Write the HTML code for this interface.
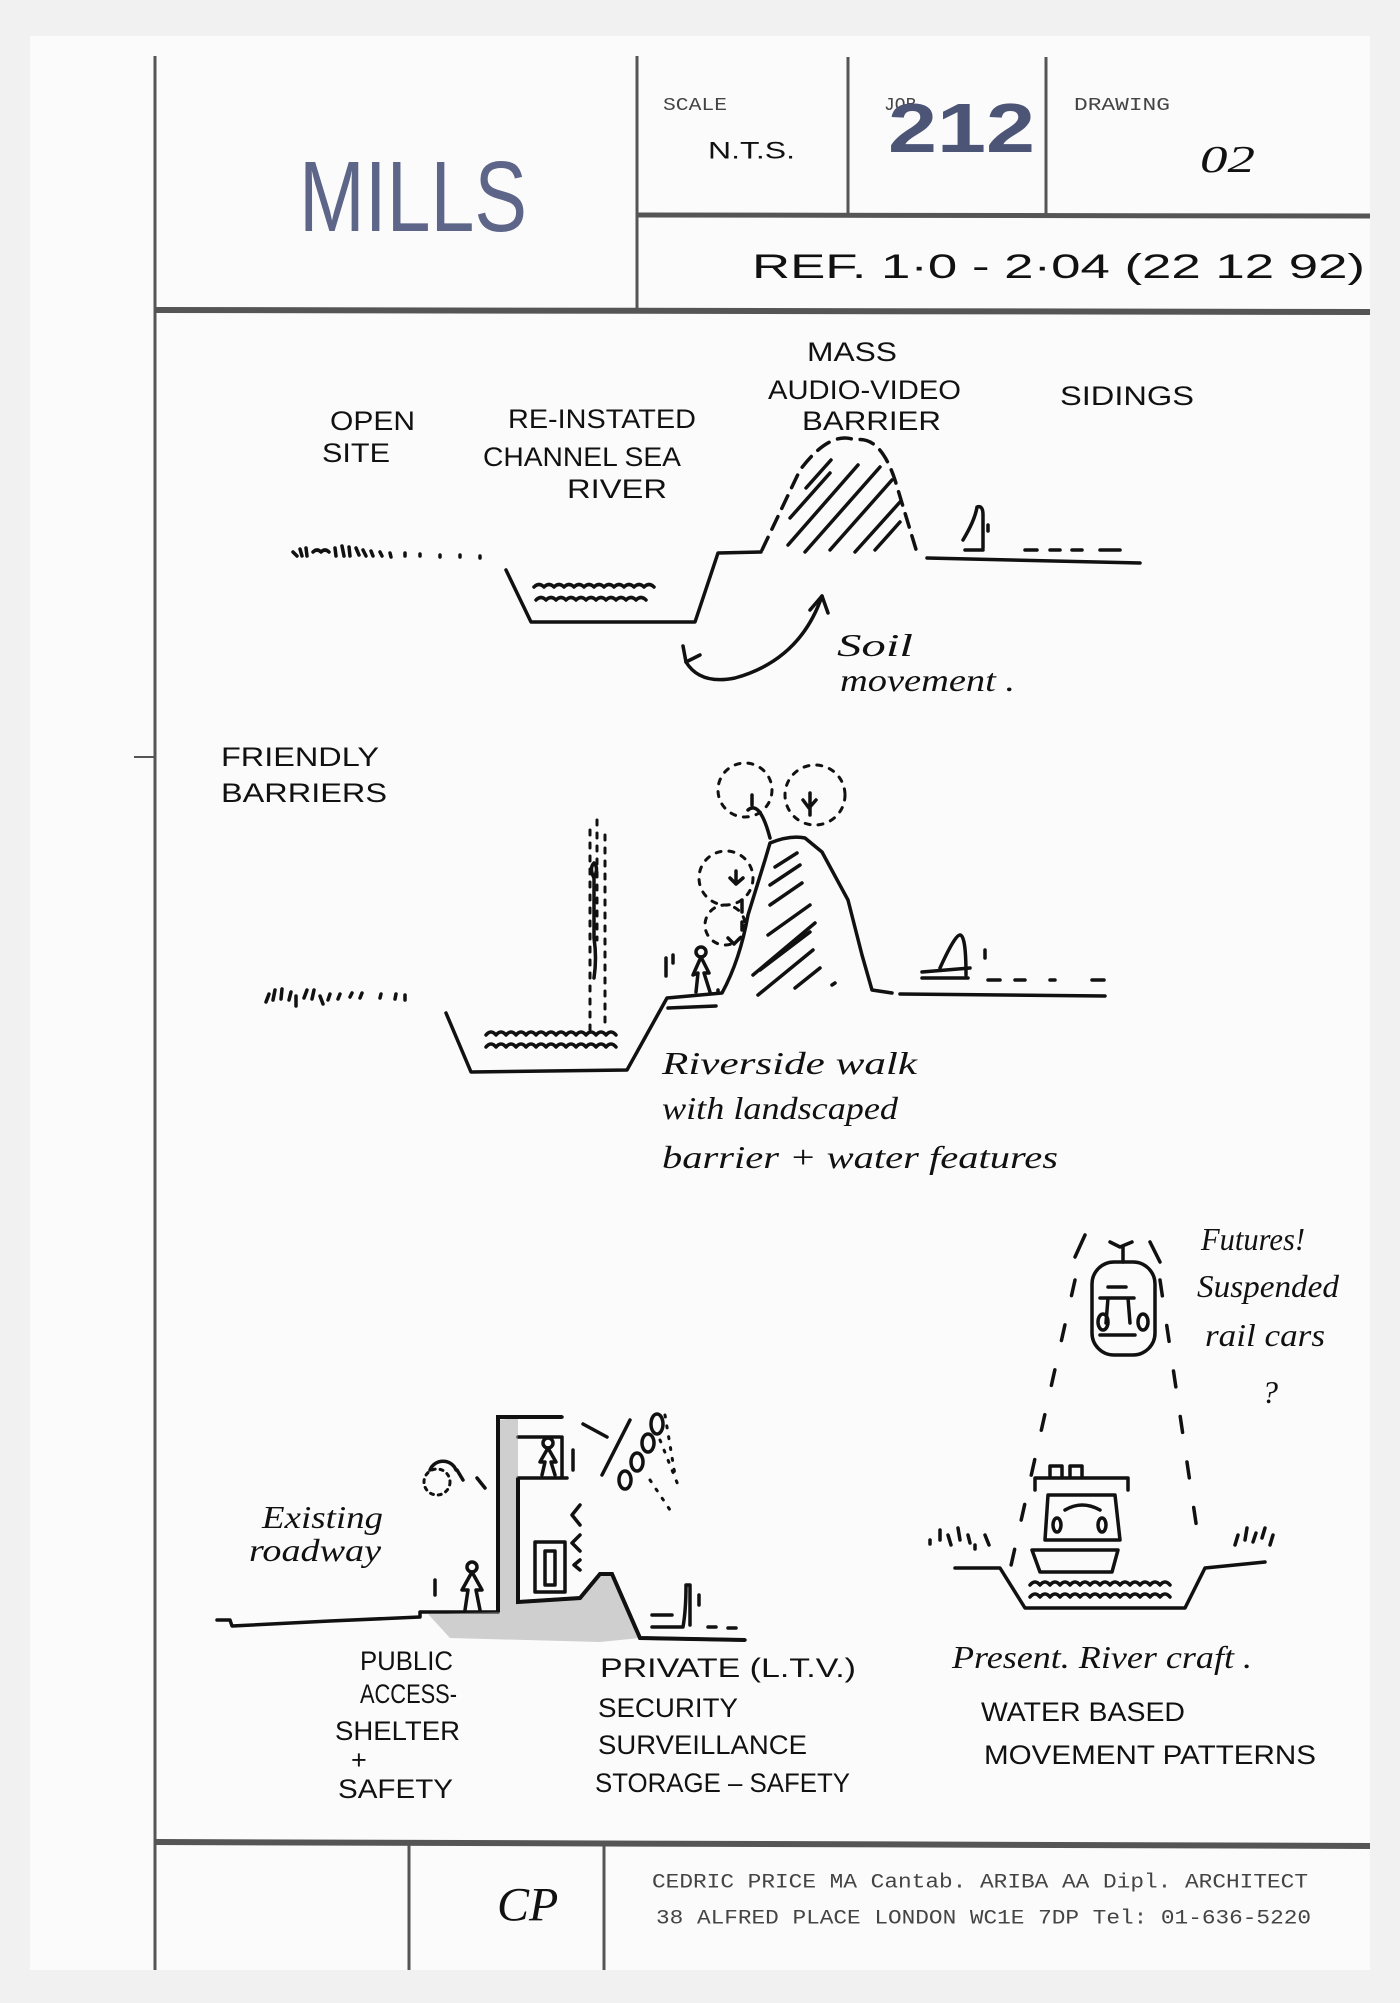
<!DOCTYPE html>
<html><head><meta charset="utf-8"><style>
html,body{margin:0;padding:0;background:#f1f1f1;}
svg{display:block}
.h{font-family:"Liberation Sans",sans-serif;fill:#111;}
.c{font-family:"Liberation Serif",serif;font-style:italic;fill:#111;}
.m{font-family:"Liberation Mono",monospace;fill:#444;}
</style></head><body>
<svg width="1400" height="2003" viewBox="0 0 1400 2003" xmlns="http://www.w3.org/2000/svg">
<rect x="0" y="0" width="1400" height="2003" fill="#f1f1f1"/>
<rect x="30" y="36" width="1340" height="1934" fill="#fbfbfb"/>
<g stroke="#555" fill="none">
<line x1="155" y1="56" x2="155" y2="1970" stroke-width="3"/>
<line x1="637" y1="56" x2="637" y2="310" stroke-width="3"/>
<line x1="848" y1="57" x2="848" y2="214" stroke-width="3"/>
<line x1="1046" y1="57" x2="1046" y2="214" stroke-width="3"/>
<line x1="637" y1="215" x2="1370" y2="216" stroke-width="5"/>
<line x1="155" y1="310" x2="1370" y2="312" stroke-width="6"/>
<line x1="155" y1="1842" x2="1370" y2="1846" stroke-width="6"/>
<line x1="409" y1="1842" x2="409" y2="1970" stroke-width="3"/>
<line x1="604" y1="1845" x2="604" y2="1970" stroke-width="3"/>
<line x1="134" y1="757" x2="155" y2="757" stroke-width="2"/>
</g>
<!-- header text -->
<text x="299" y="197" class="h" font-size="100" textLength="228" lengthAdjust="spacingAndGlyphs" dominant-baseline="central" fill="#5a6285" style="fill:#5d6588">MILLS</text>
<text x="663" y="106" class="m" font-size="18" textLength="64" lengthAdjust="spacingAndGlyphs" dominant-baseline="central">SCALE</text>
<text x="708" y="151" class="h" font-size="24" textLength="87" lengthAdjust="spacingAndGlyphs" dominant-baseline="central">N.T.S.</text>
<text x="884" y="106" class="m" font-size="18" dominant-baseline="central">JOB</text>
<text x="888" y="128" class="h" font-size="70" font-weight="bold" textLength="147" lengthAdjust="spacingAndGlyphs" dominant-baseline="central" style="fill:#4d5577">212</text>
<text x="1074" y="106" class="m" font-size="18" textLength="96" lengthAdjust="spacingAndGlyphs" dominant-baseline="central">DRAWING</text>
<text x="1200" y="160" class="c" font-size="38" textLength="55" lengthAdjust="spacingAndGlyphs" dominant-baseline="central">02</text>
<text x="752" y="267" class="h" font-size="34" textLength="613" lengthAdjust="spacingAndGlyphs" dominant-baseline="central">REF.   1·0 - 2·04    (22 12 92)</text>
<!-- footer -->
<text x="497" y="1905" class="c" font-size="48" dominant-baseline="central">CP</text>
<text x="652" y="1883" class="m" font-size="20" textLength="656" lengthAdjust="spacingAndGlyphs" dominant-baseline="central">CEDRIC PRICE MA Cantab. ARIBA AA Dipl. ARCHITECT</text>
<text x="656" y="1919" class="m" font-size="20" textLength="655" lengthAdjust="spacingAndGlyphs" dominant-baseline="central">38 ALFRED PLACE LONDON WC1E 7DP Tel: 01-636-5220</text>

<g class="h" font-size="27" dominant-baseline="central">
<text x="330" y="421" textLength="85" lengthAdjust="spacingAndGlyphs">OPEN</text>
<text x="322" y="453" textLength="68" lengthAdjust="spacingAndGlyphs">SITE</text>
<text x="508" y="419" textLength="188" lengthAdjust="spacingAndGlyphs">RE-INSTATED</text>
<text x="483" y="457" textLength="198" lengthAdjust="spacingAndGlyphs">CHANNEL SEA</text>
<text x="567" y="489" textLength="100" lengthAdjust="spacingAndGlyphs">RIVER</text>
<text x="807" y="352" textLength="90" lengthAdjust="spacingAndGlyphs">MASS</text>
<text x="768" y="390" textLength="193" lengthAdjust="spacingAndGlyphs">AUDIO-VIDEO</text>
<text x="802" y="421" textLength="139" lengthAdjust="spacingAndGlyphs">BARRIER</text>
<text x="1060" y="396" textLength="134" lengthAdjust="spacingAndGlyphs">SIDINGS</text>
<text x="221" y="757" textLength="158" lengthAdjust="spacingAndGlyphs">FRIENDLY</text>
<text x="221" y="793" textLength="166" lengthAdjust="spacingAndGlyphs">BARRIERS</text>
<text x="360" y="1661" textLength="93" lengthAdjust="spacingAndGlyphs">PUBLIC</text>
<text x="360" y="1694" textLength="97" lengthAdjust="spacingAndGlyphs">ACCESS-</text>
<text x="335" y="1731" textLength="125" lengthAdjust="spacingAndGlyphs">SHELTER</text>
<text x="351" y="1760">+</text>
<text x="338" y="1789" textLength="115" lengthAdjust="spacingAndGlyphs">SAFETY</text>
<text x="600" y="1668" textLength="256" lengthAdjust="spacingAndGlyphs">PRIVATE  (L.T.V.)</text>
<text x="598" y="1708" textLength="140" lengthAdjust="spacingAndGlyphs">SECURITY</text>
<text x="598" y="1745" textLength="209" lengthAdjust="spacingAndGlyphs">SURVEILLANCE</text>
<text x="595" y="1783" textLength="255" lengthAdjust="spacingAndGlyphs">STORAGE – SAFETY</text>
<text x="981" y="1712" textLength="204" lengthAdjust="spacingAndGlyphs">WATER BASED</text>
<text x="984" y="1755" textLength="332" lengthAdjust="spacingAndGlyphs">MOVEMENT  PATTERNS</text>
</g>
<g class="c" font-size="32" dominant-baseline="central">
<text x="837" y="645" textLength="76" lengthAdjust="spacingAndGlyphs">Soil</text>
<text x="840" y="680" textLength="175" lengthAdjust="spacingAndGlyphs">movement .</text>
<text x="662" y="1063" textLength="255" lengthAdjust="spacingAndGlyphs">Riverside walk</text>
<text x="662" y="1108" textLength="236" lengthAdjust="spacingAndGlyphs">with landscaped</text>
<text x="662" y="1157" textLength="396" lengthAdjust="spacingAndGlyphs">barrier + water features</text>
<text x="262" y="1517" textLength="121" lengthAdjust="spacingAndGlyphs">Existing</text>
<text x="249" y="1550" textLength="132" lengthAdjust="spacingAndGlyphs">roadway</text>
<text x="1201" y="1239" textLength="104" lengthAdjust="spacingAndGlyphs">Futures!</text>
<text x="1197" y="1286" textLength="142" lengthAdjust="spacingAndGlyphs">Suspended</text>
<text x="1205" y="1335" textLength="120" lengthAdjust="spacingAndGlyphs">rail cars</text>
<text x="1262" y="1392">?</text>
<text x="952" y="1657" textLength="300" lengthAdjust="spacingAndGlyphs">Present. River craft .</text>
</g>

<g stroke="#111" stroke-width="3.5" fill="none" stroke-linecap="round" stroke-linejoin="round">
<!-- top sketch -->
<path d="M293 552 l4 4 M300 549 l2 7 M306 548 l1 8 M313 552 q4 -4 8 0 q4 -4 8 0 M335 548 l1 8 M342 546 l2 10 M349 547 l1 9 M356 548 l3 7 M363 550 l3 6 M371 551 l2 5 M380 552 l2 4 M390 553 l1 4 M405 553 l0 3 M420 554 l0 2 M440 555 l0 2 M460 555 l0 2 M480 556 l0 2"/>
<path d="M506 570 L531 622 L695 622 L718 553 L761 552"/>
<path d="M534 587 q5 -5 10 0 q5 -5 10 0 q5 -5 10 0 q5 -5 10 0 q5 -5 10 0 q5 -5 10 0 q5 -5 10 0 q5 -5 10 0 q5 -5 10 0 q5 -5 10 0 q5 -5 10 0 q5 -5 10 0"/>
<path d="M536 600 q5 -5 10 0 q5 -5 10 0 q5 -5 10 0 q5 -5 10 0 q5 -5 10 0 q5 -5 10 0 q5 -5 10 0 q5 -5 10 0 q5 -5 10 0 q5 -5 10 0 q5 -5 10 0"/>
<path d="M762 550 L800 470 Q830 430 855 440 Q880 435 895 480 L918 556" stroke-dasharray="14 9"/>
<path d="M790 518 l40 -45 M788 545 l70 -80 M805 552 l75 -85 M830 550 l62 -70 M855 552 l45 -50 M875 550 l25 -28 M806 488 l25 -28"/>
<path d="M927 558 L1140 563"/>
<path d="M963 540 Q975 520 977 507 Q983 505 983 515 L983 548 M965 550 L983 550 M988 525 l0 6"/>
<path d="M1025 550 l12 0 M1050 550 l10 0 M1072 550 l10 0 M1100 550 l20 0"/>
<path d="M686 662 Q700 685 735 678 Q800 660 822 596"/>
<path d="M686 662 l-3 -16 M686 662 l14 -7 M822 596 l-12 14 M822 596 l6 17"/>
<!-- middle sketch -->
<path d="M266 1002 l3 -8 M273 1000 l2 -10 M281 999 l1 -10 M289 1000 l2 -8 M296 996 l0 10 M304 998 l3 -8 M312 999 l2 -9 M320 996 l3 8 M328 1000 l2 -6 M338 999 l2 -5 M350 997 l2 -4 M360 998 l2 -5 M380 998 l1 -4 M395 999 l1 -5 M405 1000 l0 -5"/>
<path d="M446 1013 L471 1072 L627 1070 L667 998 L722 993 Q740 960 748 915 L765 860 L770 843 Q790 835 805 838 L822 852 L848 900 L862 955 L872 990 L892 993"/>
<path d="M900 994 L1105 996"/>
<path d="M668 1008 l48 -2 M718 990 l0 3"/>
<path d="M486 1035 q5 -6 10 0 q5 -6 10 0 q5 -6 10 0 q5 -6 10 0 q5 -6 10 0 q5 -6 10 0 q5 -6 10 0 q5 -6 10 0 q5 -6 10 0 q5 -6 10 0 q5 -6 10 0 q5 -6 10 0 q5 -6 10 0"/>
<path d="M486 1047 q5 -6 10 0 q5 -6 10 0 q5 -6 10 0 q5 -6 10 0 q5 -6 10 0 q5 -6 10 0 q5 -6 10 0 q5 -6 10 0 q5 -6 10 0 q5 -6 10 0 q5 -6 10 0 q5 -6 10 0 q5 -6 10 0"/>
<path d="M775 867 l22 -14 M770 885 l30 -20 M770 905 l32 -22 M768 935 l42 -30 M760 970 l50 -38 M753 975 l62 -52 M758 995 l55 -45 M795 988 l25 -20 M832 985 l3 -2"/>
<path d="M922 972 L970 968 M940 968 Q955 935 960 935 Q966 935 966 975 M922 978 L968 978 M985 950 l0 8"/>
<path d="M988 980 l12 0 M1015 980 l10 0 M1050 980 l5 0 M1092 980 l12 0"/>
<!-- person middle -->
<circle cx="701" cy="952" r="5"/>
<path d="M701 957 L693 975 L698 973 L696 992 M701 957 L709 973 L704 973 L710 992 M666 958 l0 18 M673 955 l0 8"/>
<!-- trees -->
<path d="M770 838 Q760 800 748 810 M752 795 l0 10 M810 815 l0 -22 M803 800 l6 8 l7 -8 M736 883 l0 -12 M730 878 l6 6 l7 -6 M728 938 l6 6 l6 -6 M742 900 l0 12 M742 922 l0 8"/>
<g stroke-dasharray="5 8" stroke-width="3">
<circle cx="745" cy="790" r="27"/>
<circle cx="815" cy="795" r="30"/>
<circle cx="726" cy="878" r="27"/>
<circle cx="725" cy="925" r="20"/>
<path d="M590 830 l0 200 M605 835 l0 190 M597 820 l0 120"/>
</g>
<path d="M594 878 q-5 -10 0 -15 q5 5 0 15 l0 60 q3 20 0 40"/>
<!-- bottom left sketch -->
<path d="M217 1620 L230 1620 L232 1626 L330 1621 L420 1617 L420 1612 L498 1612"/>
<path d="M498 1612 L498 1417 L562 1417 M518 1478 L518 1602 L580 1598 L600 1574 L612 1574 L640 1638 L745 1640 M518 1478 L567 1478 M518 1437 L560 1437 M562 1437 L562 1478"/>
<rect x="535" y="1542" width="30" height="50"/>
<rect x="545" y="1551" width="10" height="34"/>
<path d="M580 1505 l-8 10 l8 10 M580 1535 l-8 8 l8 8 M580 1560 l-6 5 l6 5"/>
<path d="M583 1424 l24 13 M630 1420 l-28 55"/>
<ellipse cx="657" cy="1424" rx="6" ry="10"/><ellipse cx="648" cy="1443" rx="6" ry="9"/><ellipse cx="637" cy="1462" rx="6" ry="9"/><ellipse cx="625" cy="1480" rx="6" ry="9"/>
<path d="M430 1470 a14 14 0 0 1 26 0 M457 1470 l6 10 M477 1478 l8 10"/>
<circle cx="437" cy="1482" r="13" stroke-dasharray="3 5" stroke-width="3"/>
<g stroke-width="3" stroke-dasharray="2 9"><path d="M665 1415 l10 60 M660 1440 l20 50 M650 1480 l20 30"/></g>
<circle cx="472" cy="1567" r="5"/>
<path d="M472 1572 L462 1590 L468 1590 L465 1610 M472 1572 L482 1590 L476 1590 L480 1610 M435 1580 l0 15"/>
<circle cx="548" cy="1443" r="5"/>
<path d="M548 1448 L540 1462 L545 1462 L542 1475 M548 1448 L556 1462 L551 1462 L555 1475 M573 1450 l0 20"/>
<path d="M652 1615 l20 0 M652 1627 L683 1627 Q686 1610 686 1585 L690 1585 L690 1625 M699 1595 l0 10 M708 1627 l8 0 M728 1628 l8 0"/>
<!-- shading -->
<path d="M430 1620 Q500 1640 600 1630" stroke="#888" stroke-width="0"/>
</g>
<path d="M428 1614 L498 1612 L498 1420 L518 1418 L518 1602 L580 1598 L600 1574 L612 1574 L640 1638 L600 1642 L450 1638 Z" fill="#999" opacity="0.45"/>
<path d="M498 1612 L498 1417 L562 1417 M518 1478 L518 1602 L580 1598 L600 1574 L612 1574 L640 1638 L745 1640" stroke="#111" stroke-width="4" fill="none"/>
<g stroke="#111" stroke-width="3.5" fill="none" stroke-linecap="round" stroke-linejoin="round">
<!-- bottom right sketch -->
<path d="M955 1568 L1000 1568 L1025 1608 L1185 1608 L1205 1568 L1265 1562"/>
<path d="M1032 1550 L1118 1550 L1112 1572 L1040 1572 Z"/>
<path d="M1045 1540 L1048 1495 L1115 1495 L1120 1540 Z M1035 1490 L1035 1478 L1128 1478 L1128 1490 M1050 1478 L1050 1466 L1062 1466 L1062 1478 M1070 1478 L1070 1466 L1082 1466 L1082 1478 M1065 1510 Q1082 1500 1100 1510"/>
<ellipse cx="1057" cy="1525" rx="4" ry="7"/><ellipse cx="1102" cy="1525" rx="4" ry="7"/>
<path d="M1030 1585 q5 -6 10 0 q5 -6 10 0 q5 -6 10 0 q5 -6 10 0 q5 -6 10 0 q5 -6 10 0 q5 -6 10 0 q5 -6 10 0 q5 -6 10 0 q5 -6 10 0 q5 -6 10 0 q5 -6 10 0 q5 -6 10 0 q5 -6 10 0"/>
<path d="M1030 1597 q5 -6 10 0 q5 -6 10 0 q5 -6 10 0 q5 -6 10 0 q5 -6 10 0 q5 -6 10 0 q5 -6 10 0 q5 -6 10 0 q5 -6 10 0 q5 -6 10 0 q5 -6 10 0 q5 -6 10 0 q5 -6 10 0 q5 -6 10 0"/>
<rect x="1092" y="1262" width="63" height="93" rx="22"/>
<path d="M1108 1287 l18 0 M1100 1298 l34 0 M1108 1298 l-2 25 M1128 1298 l2 25 M1100 1335 l35 0 M1123 1262 l0 -15 M1110 1242 l10 5 l12 -5 M1085 1235 l-10 22 M1150 1242 l10 20"/>
<ellipse cx="1103" cy="1322" rx="5" ry="8"/><ellipse cx="1143" cy="1322" rx="5" ry="8"/>
<path d="M1075 1280 L1010 1570 M1160 1280 L1200 1550" stroke-dasharray="16 30"/>
<path d="M930 1540 l0 4 M940 1530 l0 10 M948 1535 l3 10 M958 1528 l2 12 M968 1535 l2 8 M975 1545 l0 4 M985 1535 l4 10 M1235 1545 l3 -10 M1245 1540 l2 -12 M1253 1542 l3 -9 M1262 1538 l3 -10 M1270 1545 l3 -10"/>
</g>
</svg>
</body></html>
